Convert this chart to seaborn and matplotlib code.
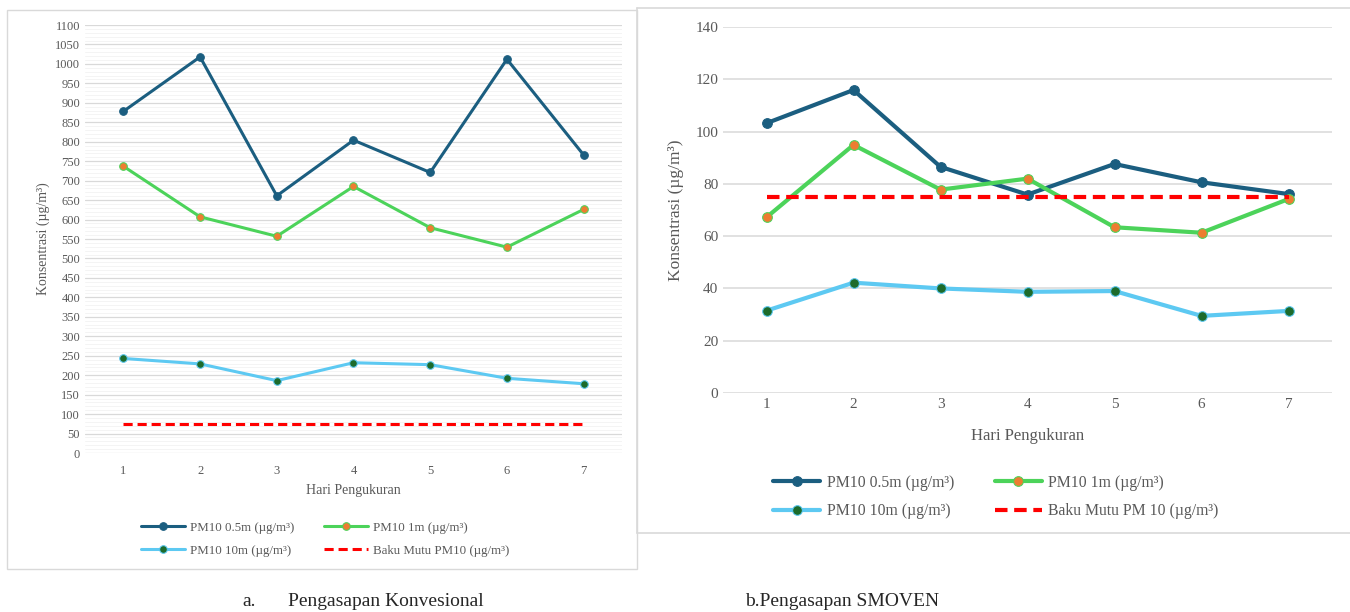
import matplotlib.pyplot as plt
import seaborn as sns
import numpy as np
import pandas as pd
from matplotlib.lines import Line2D
from matplotlib.patches import Rectangle

hari = [1, 2, 3, 4, 5, 6, 7]

# a. Pengasapan Konvensional
konv_05 = [878, 1018, 661, 804, 721, 1012, 766]
konv_1 = [737, 607, 557, 685, 579, 529, 626]
konv_10 = [243, 229, 186, 232, 227, 192, 178]
konv_baku = [75, 75, 75, 75, 75, 75, 75]

# b. Pengasapan SMOVEN
smov_05 = [103.2, 115.9, 86.5, 75.9, 87.6, 80.6, 76.1]
smov_1 = [67.2, 94.9, 77.8, 82.0, 63.4, 61.3, 74.2]
smov_10 = [31.5, 42.2, 40.0, 38.7, 39.0, 29.5, 31.4]
smov_baku = [75, 75, 75, 75, 75, 75, 75]

sns.set_style("white")
plt.rcParams['font.family'] = ['Liberation Serif', 'DejaVu Serif']

c_dark = '#1B5E80'
c_green = '#4CD35A'
c_orange = '#ED7D31'
c_cyan = '#5DC9F2'
c_dkgreen = '#1C6B2B'
c_red = '#FF0000'
grey_txt = '#595959'

fig = plt.figure(figsize=(13.5, 6.12), dpi=100)


def draw(ax, s05, s1, s10, baku, labels, lw, ms, fs):
    sns.lineplot(x=hari, y=s05, ax=ax, color=c_dark, lw=lw, marker='o', ms=ms,
                 mec=c_dark, mfc=c_dark, label=labels[0])
    sns.lineplot(x=hari, y=s1, ax=ax, color=c_green, lw=lw, marker='o', ms=ms,
                 mec=c_green, mfc=c_orange, label=labels[1])
    sns.lineplot(x=hari, y=s10, ax=ax, color=c_cyan, lw=lw, marker='o', ms=ms,
                 mec=c_cyan, mfc=c_dkgreen, label=labels[2])
    sns.lineplot(x=hari, y=baku, ax=ax, color=c_red, lw=lw, ls=(0, (3, 1.6)),
                 label=labels[3])
    ax.set_xlim(0.5, 7.5)
    ax.set_xticks(hari)
    for s in ax.spines.values():
        s.set_visible(False)
    ax.tick_params(length=0, labelsize=fs, labelcolor=grey_txt)
    ax.set_axisbelow(True)


# ---- left panel
fig.add_artist(Rectangle((7 / 1350, 1 - 569 / 612), 630 / 1350, 559 / 612,
                         transform=fig.transFigure, fill=False,
                         ec='#D9D9D9', lw=1))
ax1 = fig.add_axes([85 / 1350, 1 - 453 / 612, 537 / 1350, 428 / 612])
lab1 = ['PM10 0.5m (µg/m³)', 'PM10 1m (µg/m³)', 'PM10 10m (µg/m³)',
        'Baku Mutu PM10 (µg/m³)']
draw(ax1, konv_05, konv_1, konv_10, konv_baku, lab1, 2.2, 5.5, 9)
ax1.set_ylim(0, 1100)
ax1.set_yticks(np.arange(0, 1101, 50))
ax1.set_yticks(np.arange(0, 1101, 10), minor=True)
ax1.tick_params(which='minor', length=0)
ax1.tick_params(axis='x', pad=9)
ax1.grid(True, which='major', axis='y', color='#D9D9D9', lw=0.9)
ax1.grid(True, which='minor', axis='y', color='#F2F2F2', lw=0.6)
ax1.set_xlabel('Hari Pengukuran', fontsize=10, color=grey_txt, labelpad=5)
ax1.set_ylabel('Konsentrasi (µg/m³)', fontsize=10, color=grey_txt, labelpad=4)
h, l = ax1.get_legend_handles_labels()
ax1.legend([h[0], h[2], h[1], h[3]], [l[0], l[2], l[1], l[3]], ncol=2,
           loc='center', bbox_to_anchor=(325 / 1350, 1 - 539 / 612),
           bbox_transform=fig.transFigure, frameon=False, fontsize=9.3,
           handlelength=3.4, columnspacing=2.3, labelcolor=grey_txt,
           handletextpad=0.4, labelspacing=0.85)

# ---- right panel
for xs, ys in [([637, 1350], [8, 8]), ([637, 1350], [533, 533]),
               ([637, 637], [8, 533])]:
    fig.add_artist(Line2D([x / 1350 for x in xs], [1 - y / 612 for y in ys],
                          transform=fig.transFigure, color='#D9D9D9', lw=1.2))
ax2 = fig.add_axes([723 / 1350, 1 - 393 / 612, 609 / 1350, 366 / 612])
lab2 = ['PM10 0.5m (µg/m³)', 'PM10 1m (µg/m³)', 'PM10 10m (µg/m³)',
        'Baku Mutu PM 10 (µg/m³)']
draw(ax2, smov_05, smov_1, smov_10, smov_baku, lab2, 3.0, 7, 11)
ax2.set_ylim(0, 140)
ax2.set_yticks(np.arange(0, 141, 20))
ax2.grid(True, axis='y', color='#D9D9D9', lw=1.1)
ax2.set_xlabel('Hari Pengukuran', fontsize=12, color=grey_txt, labelpad=12)
ax2.set_ylabel('Konsentrasi (µg/m³)', fontsize=12.5, color=grey_txt, labelpad=8)
h, l = ax2.get_legend_handles_labels()
ax2.legend([h[0], h[2], h[1], h[3]], [l[0], l[2], l[1], l[3]], ncol=2,
           loc='center', bbox_to_anchor=(996 / 1350, 1 - 497 / 612),
           bbox_transform=fig.transFigure, frameon=False, fontsize=11.3,
           handlelength=3.0, columnspacing=2.6, labelcolor=grey_txt,
           handletextpad=0.4, labelspacing=0.8)

# ---- captions
fig.text(242 / 1350, 1 - 601 / 612, 'a.', fontsize=14, va='center')
fig.text(288 / 1350, 1 - 601 / 612, 'Pengasapan Konvesional', fontsize=14,
         va='center')
fig.text(745 / 1350, 1 - 602 / 612, 'b.Pengasapan SMOVEN', fontsize=14,
         va='center')

fig.savefig('out.png', dpi=100)
